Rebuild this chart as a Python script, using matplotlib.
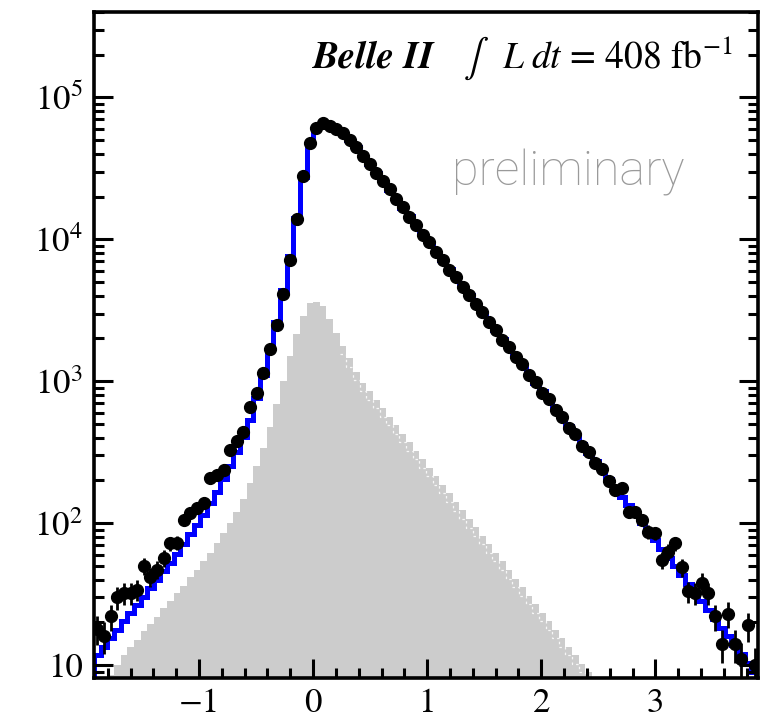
import numpy as np
import matplotlib
matplotlib.use("Agg")
import matplotlib.pyplot as plt
from matplotlib.ticker import MultipleLocator, LogLocator, FuncFormatter, NullFormatter

plt.rcParams['mathtext.fontset'] = 'stix'
plt.rcParams['font.family'] = ['STIXGeneral', 'DejaVu Sans']

# binning of the histogram (100 bins)
x_lo, x_hi, n_bins = -1.92, 3.90, 100

# data counts per bin
data = [18, 16, 22, 30, 32, 32, 34, 50, 42, 47,
        57, 72, 73, 105, 117, 128, 138, 208, 218, 236,
        325, 380, 440, 660, 830, 1150, 1700, 2500, 4100, 7100,
        14000, 28000, 48000, 61000, 66000, 63100, 60300, 56200, 50100, 44700,
        38900, 33900, 29500, 25600, 22600, 19100, 16900, 14300, 12700, 10800,
        9500, 8150, 7200, 6120, 5400, 4600, 4080, 3480, 3060, 2600,
        2310, 1960, 1740, 1480, 1320, 1100, 990, 830, 745, 625,
        560, 470, 425, 352, 318, 265, 240, 198, 170, 178,
        120, 120, 105, 87, 85, 55, 63, 72, 49, 33,
        32, 38, 32, 22, 14, 23, 14, 11, 19, 10]

# total model (blue)
model = [11.7, 13.5, 15.5, 17.8, 20.4, 23.4, 26.3, 30.2, 34.7, 39.8,
         45.7, 52.5, 60.3, 70.8, 83.2, 97.7, 115, 138, 166, 204,
         251, 316, 407, 537, 759, 1100, 1660, 2630, 4370, 7590,
         14100, 27500, 46800, 61700, 66100, 63100, 60300, 56200, 50100, 44700,
         38900, 33900, 29500, 25600, 22200, 19300, 16700, 14500, 12600, 10900,
         9460, 8220, 7130, 6180, 5370, 4660, 4040, 3510, 3040, 2640,
         2290, 1990, 1720, 1500, 1300, 1120, 977, 847, 735, 638,
         553, 480, 417, 361, 313, 272, 236, 205, 178, 154,
         134, 116, 101, 87, 75.9, 65.8, 57.0, 49.5, 43.0, 37.2,
         32.4, 28.1, 24.3, 21.1, 18.3, 15.9, 13.8, 12.0, 10.4, 9.0]

# background component (grey)
bkg = [6.3, 7.4, 8.5, 10.0, 11.7, 13.5, 15.1, 17.4, 19.5, 21.9,
       25.1, 28.2, 32.4, 36.3, 41.7, 46.8, 53.7, 61.7, 72.4, 85.1,
       100, 120, 148, 191, 251, 339, 479, 692, 1000, 1510,
       2140, 2880, 3550, 3630, 3390, 2750, 2190, 1780, 1450, 1170,
       977, 851, 741, 646, 562, 490, 427, 372, 324, 282,
       245, 214, 186, 162, 141, 123, 107, 93.3, 81.3, 70.8,
       61.7, 53.7, 46.8, 40.7, 35.5, 30.9, 26.9, 23.4, 20.4, 17.8,
       15.5, 13.5, 11.7, 10.2, 8.9, 7.8, 6.8, 5.9, 5.1, 4.5,
       3.9, 3.4, 2.9, 2.6, 2.2, 1.9, 1.7, 1.5, 1.3, 1.1,
       0.98, 0.85, 0.74, 0.64, 0.56, 0.49, 0.43, 0.37, 0.32, 0.28]

edges = np.linspace(x_lo, x_hi, n_bins + 1)
centers = 0.5 * (edges[:-1] + edges[1:])
data = np.array(data, dtype=float)
model = np.array(model, dtype=float)
bkg = np.array(bkg, dtype=float)

fig = plt.figure(figsize=(7.81, 7.24), dpi=100)
ax = fig.add_axes([0.1204, 0.0635, 0.8502, 0.92])

ax.stairs(bkg, edges, baseline=1e-3, fill=True, color='#cccccc', lw=0)
# inner edge of the second grey component, only on the falling side
i0, i1 = 37, 76
ax.stairs(bkg[i0:i1] * 0.87, edges[i0:i1 + 1], baseline=None, color='white', lw=0.9,
          ls=(0, (2, 2.5)), alpha=0.85)
ax.stairs(model, edges, color='#0000ff', lw=3.6)
ax.errorbar(centers, data, yerr=np.sqrt(data), fmt='o', color='black',
            ms=8.5, elinewidth=2, capsize=0)

ax.set_yscale('log')
ax.set_xlim(x_lo, x_hi)
ax.set_ylim(8.1, 4.0e5)

ax.xaxis.set_major_locator(MultipleLocator(1))
ax.xaxis.set_minor_locator(MultipleLocator(0.2))
ax.yaxis.set_major_locator(LogLocator(base=10, numticks=10))
ax.yaxis.set_minor_locator(LogLocator(base=10, subs=np.arange(2, 10), numticks=20))
ax.yaxis.set_minor_formatter(NullFormatter())


def ylab(v, pos):
    n = int(round(np.log10(v)))
    if n == 1:
        return '10'
    return r'$10^{%d}$' % n


ax.yaxis.set_major_formatter(FuncFormatter(ylab))
ax.xaxis.set_major_formatter(FuncFormatter(lambda v, p: '%d' % v if v >= 0 else '\u2212%d' % -v))

ax.tick_params(which='both', direction='in', top=False, right=True, width=2.2)
ax.tick_params(which='major', length=14)
ax.tick_params(which='minor', length=7)
ax.tick_params(axis='x', labelsize=25, pad=7)
ax.tick_params(axis='y', labelsize=25, pad=8)
for s in ax.spines.values():
    s.set_linewidth(2.6)

ax.text(0.514, 0.916, 'Belle II', transform=ax.transAxes, ha='right', va='baseline',
        fontsize=28, fontweight='bold', style='italic')
ax.text(0.962, 0.916, r'$\int\;\;\; L\; dt$ = 408 fb$^{-1}$', transform=ax.transAxes,
        ha='right', va='baseline', fontsize=27)
ax.text(0.714, 0.74, 'preliminary', transform=ax.transAxes, ha='center', va='baseline',
        fontsize=35, color='#9a9a9a', family=['Roboto', 'DejaVu Sans'], fontweight='light')

fig.savefig('out.png', dpi=100)
